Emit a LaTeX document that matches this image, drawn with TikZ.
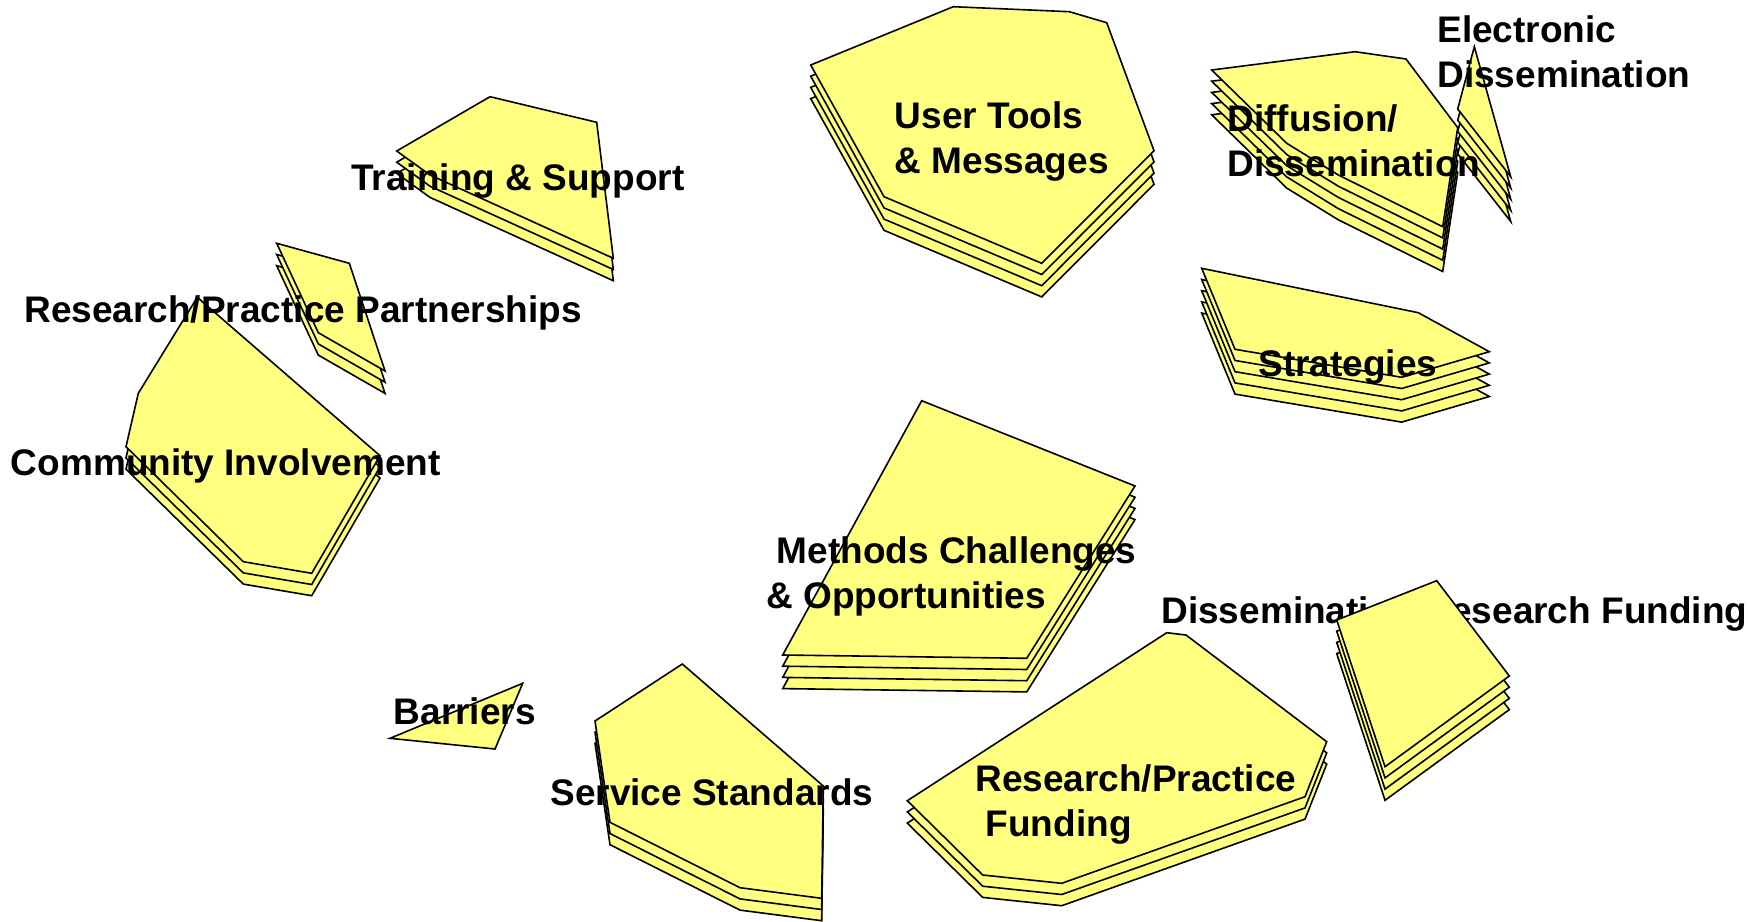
\documentclass[tikz,border=0pt]{standalone}
\usepackage{fontspec}
\setmainfont{Liberation Sans}
\tikzset{
  sheet/.style={draw=black, line width=0.8pt, line join=miter,
    fill={rgb,255:red,255;green,255;blue,128}},
  lbl/.style={font=\bfseries\fontsize{18.5}{22.5}\selectfont, anchor=base west,
    inner sep=0pt, align=left},
}
\newcommand{\sheetgap}{5.6pt}

\begin{document}
\begin{tikzpicture}[x=0.5pt,y=-0.5pt]
\useasboundingbox (0,0) rectangle (1748,921);

% label that sits under its own pile
\node[lbl] (lDisRes) at (1161,623.3) {Dissemination/Research Funding};

% ===================== PILES OF SHEETS =====================
% User Tools
\foreach \k in {3,...,0}
  \draw[sheet, yshift=-\k*\sheetgap] (810.7,65) -- (953.3,6.7) -- (1069.3,11.7) -- (1106.7,22.7)
    -- (1154,150.7) -- (1041.7,263.3) -- (884,196.7) -- cycle;
% Diffusion
\foreach \k in {4,...,0}
  \draw[sheet, yshift=-\k*\sheetgap] (1211.7,70) -- (1355,51.7) -- (1406,59) -- (1457.7,127.7)
    -- (1442.7,226.7) -- (1338.3,175) -- (1286.7,143.3) -- cycle;
% Electronic
\foreach \k in {4,...,0}
  \draw[sheet, yshift=-\k*\sheetgap] (1474.3,46.7) -- (1510.7,176.7) -- (1457.7,109) -- cycle;
% Strategies
\foreach \k in {4,...,0}
  \draw[sheet, yshift=-\k*\sheetgap] (1201.7,268.3) -- (1418.3,312.7) -- (1489.3,351.7)
    -- (1401.7,377.3) -- (1235,349.3) -- cycle;
% Training
\foreach \k in {2,...,0}
  \draw[sheet, yshift=-\k*\sheetgap] (396.7,151) -- (490,96.7) -- (596.7,122.3)
    -- (613.3,258.3) -- (430,175) -- cycle;
% Partnerships
\foreach \k in {2,...,0}
  \draw[sheet, yshift=-\k*\sheetgap] (276.7,243.3) -- (349.3,263.3) -- (385,371) -- (318.3,332.7) -- cycle;
% Community
\foreach \k in {2,...,0}
  \draw[sheet, yshift=-\k*\sheetgap] (197.3,297.3) -- (380,455.7) -- (311.7,573.3) -- (243.3,561.7)
    -- (126,446.7) -- (138.3,393.3) -- cycle;
% Methods
\foreach \k in {3,...,0}
  \draw[sheet, yshift=-\k*\sheetgap] (921.7,400.7) -- (1135,486) -- (1026.7,658.3) -- (782.7,655) -- cycle;
% Barriers
\draw[sheet] (390,738.3) -- (522.7,683.3) -- (495,749) -- cycle;
% Service
\foreach \k in {2,...,0}
  \draw[sheet, yshift=-\k*\sheetgap] (595,721) -- (682.3,664) -- (823.3,786) -- (821.7,898.3)
    -- (740,887.7) -- (610,822.3) -- cycle;
% Funding
\foreach \k in {2,...,0}
  \draw[sheet, yshift=-\k*\sheetgap] (907.3,800.7) -- (1166.7,632.7) -- (1186,635) -- (1326.7,741.7)
    -- (1305,796.7) -- (1061.7,883.3) -- (982.7,875) -- cycle;
% Dissemination/Research
\foreach \k in {3,...,0}
  \draw[sheet, yshift=-\k*\sheetgap] (1336.7,620) -- (1436.7,580.7) -- (1509.3,676) -- (1385,766.7) -- cycle;

% ===================== LABELS =====================
\node[lbl] (lElec)  at (1437,87.7)   {Electronic\\Dissemination};
\node[lbl] (lTools) at (894.5,173.3) {User Tools\\\& Messages};
\node[lbl] (lDiff)  at (1227,176.7)  {Diffusion/\\Dissemination};
\node[lbl] (lStrat) at (1258,376.7)  {Strategies};
\node[lbl] (lTrain) at (351,190)     {Training \& Support};
\node[lbl] (lPart)  at (24,322)      {Research/Practice Partnerships};
\node[lbl] (lComm)  at (10.5,475)    {Community Involvement};
\node[lbl] (lMeth)  at (766,608.5)   {\hspace*{0.278em}Methods Challenges\\\& Opportunities};
\node[lbl] (lBarr)  at (393.5,724)   {Barriers};
\node[lbl] (lServ)  at (550,805.7)   {Service Standards};
\node[lbl] (lFund)  at (975,836.7)   {Research/Practice\\\hspace*{0.278em}Funding};

\end{tikzpicture}
\end{document}
